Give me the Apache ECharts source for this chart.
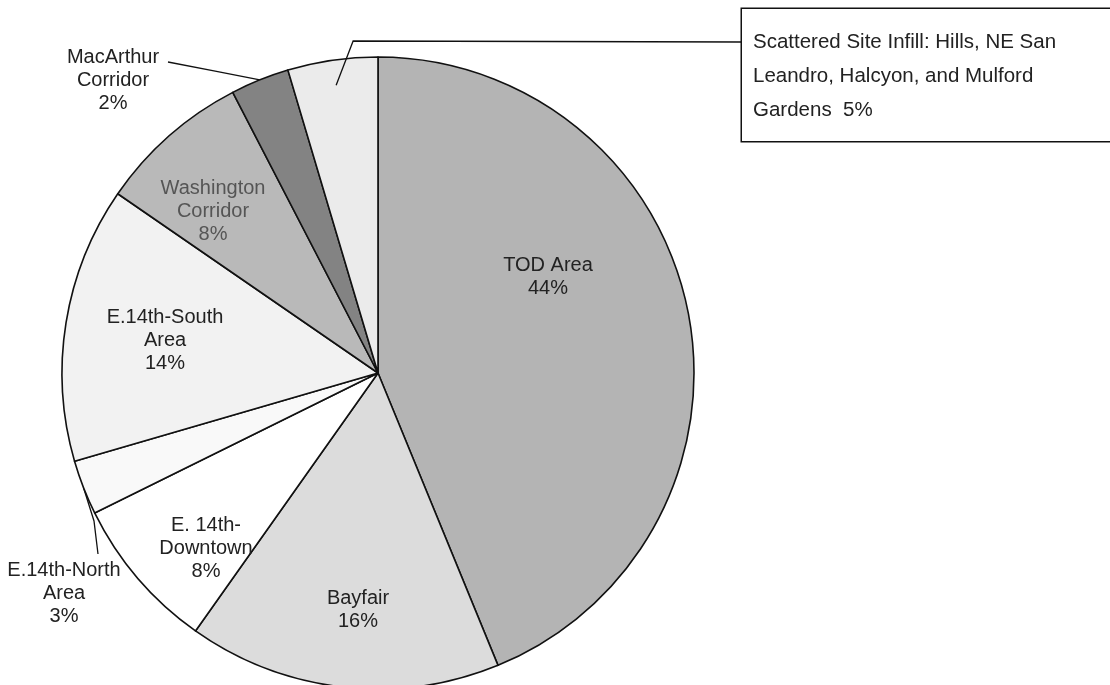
<!DOCTYPE html>
<html>
<head>
    <meta charset="utf-8">
    <title>Housing distribution pie</title>
    <script src="https://cdn.jsdelivr.net/npm/echarts@6/dist/echarts.min.js"></script>
</head>
<body style="margin:0;background:#fff;">
    <div id="main" style="width:1110px;height:685px;"></div>
    <script type="text/javascript">
        // slice names, clockwise from 12 o'clock
        var areaNames = ['TOD Area', 'Bayfair', 'E. 14th-Downtown', 'E.14th-North Area',
            'E.14th-South Area', 'Washington Corridor', 'MacArthur Corridor',
            'Scattered Site Infill: Hills, NE San Leandro, Halcyon, and Mulford Gardens'];
        // slice sizes (percent of the circle)
        var shareValues = [43.8, 16.0, 7.9, 2.8, 14.1, 7.8, 3.0, 4.6];
        // percentages as printed on the chart
        var shareLabels = ['44%', '16%', '8%', '3%', '14%', '8%', '2%', '5%'];
        // label text with the original line breaks
        var labelTexts = ['TOD Area', 'Bayfair', 'E. 14th-\nDowntown', 'E.14th-North\nArea',
            'E.14th-South\nArea', 'Washington\nCorridor', 'MacArthur\nCorridor',
            'Scattered Site Infill: Hills, NE San\nLeandro, Halcyon, and Mulford\nGardens'];
        var sliceColors = ['#b4b4b4', '#dcdcdc', '#ffffff', '#f9f9f9', '#f2f2f2', '#b9b9b9', '#838383', '#ebebeb'];

        // layout (pixels)
        var cx = 378, cy = 373, R = 316;
        var spots = [[548, 277], [358, 610], [206, 548], [64, 593], [165, 340], [213, 211], [113, 80], [742, 9]];
        var BOX = 7; // the slice whose label sits in the callout box

        var myChart = echarts.init(document.getElementById('main'));

        var total = shareValues.reduce(function (a, b) { return a + b; }, 0);
        function midAngle(i) {
            var before = 0;
            for (var k = 0; k < i; k++) before += shareValues[k];
            return (before + shareValues[i] / 2) / total * 360;
        }
        function polar(deg, rr) {
            var a = deg * Math.PI / 180;
            return [cx + rr * Math.sin(a), cy - rr * Math.cos(a)];
        }

        var outsideIdx = [3, 6];
        var pieData = areaNames.map(function (n, i) {
            return {
                name: n,
                value: shareValues[i],
                itemStyle: { color: sliceColors[i] },
                label: {
                    show: i !== BOX,
                    formatter: labelTexts[i] + '\n' + shareLabels[i],
                    position: outsideIdx.indexOf(i) >= 0 ? 'outside' : 'inside',
                    color: i === 5 ? '#555' : '#222'
                },
                labelLine: { show: outsideIdx.indexOf(i) >= 0 }
            };
        });

        // transparent copy on top, only carries the callout box and its leader
        var boxData = areaNames.map(function (n, i) {
            var d = {
                name: n,
                value: shareValues[i],
                label: { show: i === BOX },
                labelLine: { show: i === BOX }
            };
            if (i === BOX) {
                d.label = {
                    show: true,
                    position: 'outside',
                    formatter: labelTexts[i] + '  ' + shareLabels[i],
                    align: 'left',
                    color: '#222',
                    fontFamily: 'Liberation Sans, Arial, sans-serif',
                    fontSize: 20.5,
                    lineHeight: 34,
                    backgroundColor: '#fff',
                    borderColor: '#111',
                    borderWidth: 1.5,
                    padding: [16, 0, 14, 11],
                    width: 390
                };
            }
            return d;
        });

        option = {
            backgroundColor: '#fff',
            animation: false,
            series: [{
                type: 'pie',
                z: 2,
                center: [cx, cy],
                radius: R,
                startAngle: 90,
                clockwise: true,
                avoidLabelOverlap: false,
                itemStyle: { borderColor: '#111', borderWidth: 1.6 },
                label: {
                    fontFamily: 'Liberation Sans, Arial, sans-serif',
                    fontSize: 20,
                    lineHeight: 23,
                    align: 'center'
                },
                labelLine: {
                    smooth: false,
                    lineStyle: { color: '#111', width: 1.3 }
                },
                emphasis: { disabled: true },
                labelLayout: function (p) {
                    var i = p.dataIndex;
                    var s = spots[i];
                    var out = { x: s[0], y: s[1], align: 'center', verticalAlign: 'middle' };
                    if (i === 6) {
                        // straight leader from the arc to the end of "MacArthur"
                        var e6 = polar(midAngle(6), R);
                        var t6 = [s[0] + 55, s[1] - 18];
                        out.labelLinePoints = [e6, [(e6[0] + t6[0]) / 2, (e6[1] + t6[1]) / 2], t6];
                    }
                    if (i === 3) {
                        var e3 = polar(midAngle(3), R);
                        out.labelLinePoints = [e3, [s[0] + 30, s[1] - 72], [s[0] + 34, s[1] - 39]];
                    }
                    return out;
                },
                data: pieData
            }, {
                type: 'pie',
                z: 3,
                silent: true,
                center: [cx, cy],
                radius: R,
                startAngle: 90,
                clockwise: true,
                avoidLabelOverlap: false,
                itemStyle: { color: 'rgba(0,0,0,0)', borderWidth: 0 },
                labelLine: {
                    smooth: false,
                    lineStyle: { color: '#111', width: 1.3 }
                },
                emphasis: { disabled: true },
                labelLayout: function (p) {
                    if (p.dataIndex !== BOX) return {};
                    var s = spots[BOX];
                    var start = polar(midAngle(BOX), R * 0.92);
                    return {
                        x: s[0], y: s[1], align: 'left', verticalAlign: 'top',
                        labelLinePoints: [start, [start[0] + 17, s[1] + 32], [s[0], s[1] + 33]]
                    };
                },
                data: boxData
            }]
        };

        myChart.setOption(option);
    </script>
</body>
</html>
